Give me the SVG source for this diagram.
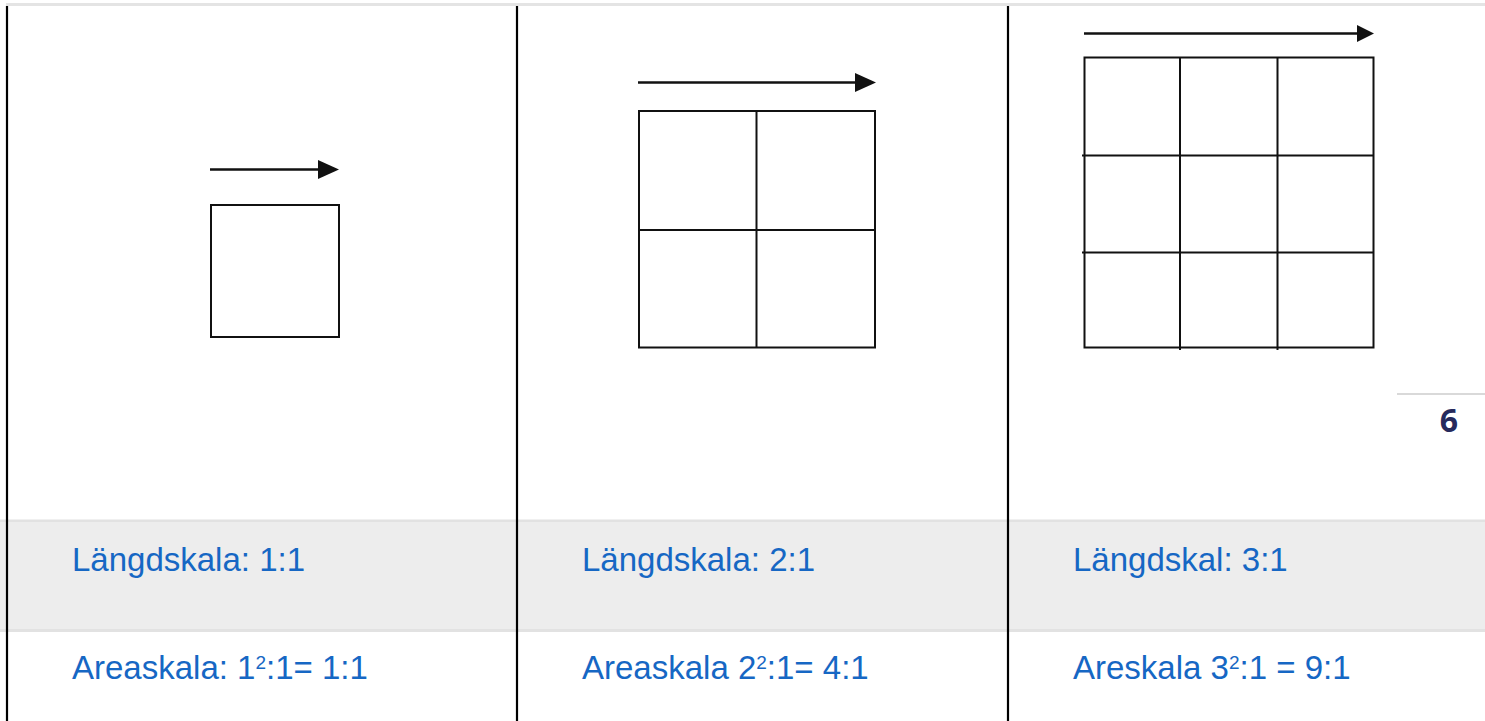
<svg xmlns="http://www.w3.org/2000/svg" width="1485" height="721" viewBox="0 0 1485 721">
<defs>
<style>
.lbl{font-family:"Liberation Sans",Arial,sans-serif;font-size:33px;fill:#1667c4}
.sup{font-size:19px}
.grid{fill:none;stroke:#111;stroke-width:2}
.arr{stroke:#111;stroke-width:2.5;fill:none}
.ah{fill:#111}
.vline{stroke:#000;stroke-width:2.2}
</style>
</defs>
<rect x="0" y="0" width="1485" height="721" fill="#fff"/>
<g id="table">
<rect x="6" y="3" width="1479" height="3" fill="#e4e4e4"/>
<rect x="0" y="520" width="1485" height="111" fill="#ededed"/>
<rect x="0" y="519.5" width="1485" height="2.5" fill="#e2e2e2"/>
<rect x="0" y="629" width="1485" height="3" fill="#e2e2e2"/>
<line class="vline" x1="7" y1="6" x2="7" y2="721"/>
<line class="vline" x1="517" y1="6" x2="517" y2="721"/>
<line class="vline" x1="1008" y1="6" x2="1008" y2="721"/>
</g>
<g id="cell1-figure">
<line class="arr" x1="210" y1="169.5" x2="322" y2="169.5"/>
<polygon class="ah" points="318,160 339,169.5 318,179"/>
<rect class="grid" x="211" y="205" width="128" height="132"/>
</g>
<g id="cell2-figure">
<line class="arr" x1="638" y1="82.5" x2="858" y2="82.5"/>
<polygon class="ah" points="855,73 876,82.5 855,92"/>
<rect class="grid" x="639" y="111" width="236" height="236.5"/>
<line class="grid" x1="756.5" y1="111" x2="756.5" y2="347.5"/>
<line class="grid" x1="639" y1="230" x2="875" y2="230"/>
</g>
<g id="cell3-figure">
<line class="arr" x1="1084" y1="33.5" x2="1360" y2="33.5" stroke="#333"/>
<polygon class="ah" points="1357,25 1374,33.5 1357,42"/>
<rect class="grid" x="1084.5" y="57.5" width="289" height="290"/>
<line class="grid" x1="1180" y1="57.5" x2="1180" y2="350"/>
<line class="grid" x1="1277.5" y1="57.5" x2="1277.5" y2="350"/>
<line class="grid" x1="1082" y1="155.5" x2="1373.5" y2="155.5"/>
<line class="grid" x1="1082" y1="252.5" x2="1373.5" y2="252.5"/>
</g>
<g id="page-number">
<rect x="1397" y="393" width="88" height="2" fill="#d9d9d9"/>
<text x="1449" y="432" text-anchor="middle" font-family="'Open Sans','Liberation Sans',sans-serif" font-weight="bold" font-size="32" fill="#262a5c">6</text>
</g>
<g id="cell1-labels">
<text class="lbl" x="72" y="571">Längdskala: 1:1</text>
<text class="lbl" x="72" y="679">Areaskala: 1<tspan class="sup" dy="-10">2</tspan><tspan dy="10">:1= 1:1</tspan></text>
</g>
<g id="cell2-labels">
<text class="lbl" x="582" y="571">Längdskala: 2:1</text>
<text class="lbl" x="582" y="679">Areaskala 2<tspan class="sup" dy="-10">2</tspan><tspan dy="10">:1= 4:1</tspan></text>
</g>
<g id="cell3-labels">
<text class="lbl" x="1073" y="571">Längdskal: 3:1</text>
<text class="lbl" x="1073" y="679">Areskala 3<tspan class="sup" dy="-10">2</tspan><tspan dy="10">:1 = 9:1</tspan></text>
</g>
</svg>
